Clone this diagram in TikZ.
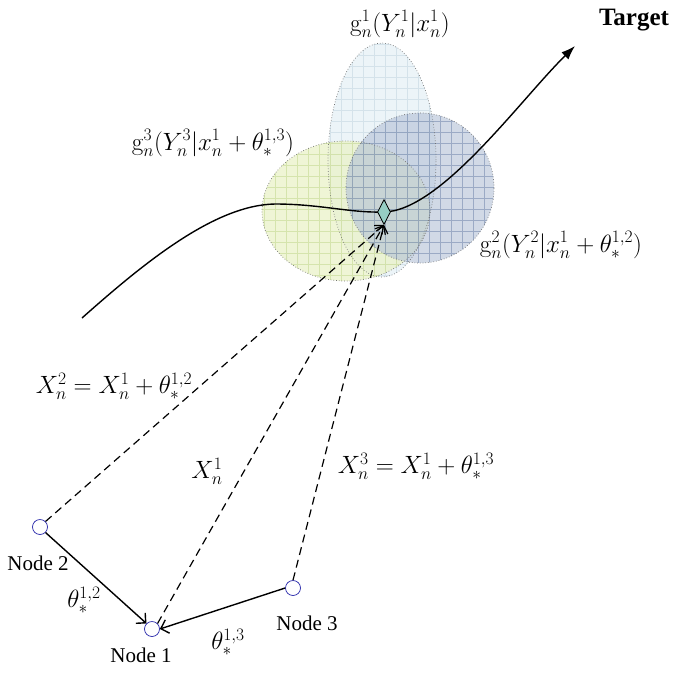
\documentclass[tikz,border=0pt]{standalone}
\usepackage{fix-cm}
\usepackage[no-math]{fontspec}
\setmainfont{Liberation Serif}
\usetikzlibrary{shapes.geometric,arrows.meta}
\definecolor{gAfill}{RGB}{236,244,248}
\definecolor{gAgrid}{RGB}{212,226,234}
\definecolor{gCfill}{RGB}{234,242,200}
\definecolor{gCgrid}{RGB}{205,222,160}
\definecolor{gBfill}{RGB}{178,192,214}
\definecolor{gBgrid}{RGB}{120,140,175}
\definecolor{diafill}{RGB}{150,205,195}
\definecolor{nodeblue}{RGB}{40,40,170}
\begin{document}
\begin{tikzpicture}[x=1pt,y=-1pt,
  nodecirc/.style={circle,draw=nodeblue,line width=0.7pt,minimum size=15pt,inner sep=0pt},
  nodelab/.style={font=\fontsize{21}{25}\selectfont},
  mlab/.style={font=\fontsize{25}{30}\selectfont,inner sep=0pt},
  ellline/.style={draw=gray!90!black,dotted,line width=0.7pt},
  dasharrow/.style={dash pattern=on 8pt off 5pt,line width=1.2pt,-{Straight Barb[length=7pt,width=12pt,line width=1.2pt]}},
  solidarrow/.style={line width=1.4pt,-{Straight Barb[length=7pt,width=14pt,line width=1.4pt]}},
  gridlines/.style={line width=0.5pt}
]
\useasboundingbox (0,0) rectangle (673,675);

% ellipse fills with grids
\begin{scope}
  \clip (382,160) ellipse [x radius=54pt, y radius=117pt];
  \fill[gAfill] (320,40) rectangle (440,280);
  \draw[gAgrid,gridlines,step=11pt] (320,40) grid (440,280);
\end{scope}
\begin{scope}[opacity=0.75]
  \clip (346,211) ellipse [x radius=84pt, y radius=70pt];
  \fill[gCfill] (255,135) rectangle (435,285);
  \draw[gCgrid,gridlines,step=11pt] (255,135) grid (435,285);
\end{scope}
\begin{scope}[opacity=0.6]
  \clip (420,188) ellipse [x radius=74pt, y radius=75pt];
  \fill[gBfill] (340,110) rectangle (500,268);
  \draw[gBgrid,gridlines,step=11pt] (340,110) grid (500,268);
\end{scope}
\draw[ellline] (382,160) ellipse [x radius=54pt, y radius=117pt];
\draw[ellline] (346,211) ellipse [x radius=84pt, y radius=70pt];
\draw[ellline] (420,188) ellipse [x radius=74pt, y radius=75pt];

% trajectory
\draw[line width=1.4pt,-{Latex[length=14pt,width=10pt]}] (82,318) .. controls (145,262) and (215,205) .. (275,204) .. controls (320,204) and (350,213) .. (383,212) .. controls (440,212) and (520,100) .. (575,46);

% diamond
\node[diamond,draw=black,line width=0.8pt,fill=diafill,minimum width=13pt,minimum height=25pt,inner sep=0pt] (dia) at (384,212) {};

% nodes
\node[nodecirc] (n2) at (40,527) {};
\node[nodecirc] (n1) at (152,629) {};
\node[nodecirc] (n3) at (293,588) {};
\node[nodelab] (l2) at (38,563) {Node 2};
\node[nodelab] (l1) at (141,655) {Node 1};
\node[nodelab] (l3) at (307,623) {Node 3};

% dashed lines to diamond
\draw[dasharrow] (n2.north east) -- (dia.south);
\draw[dasharrow] (n1.north east) -- (dia.south);
\draw[dasharrow] (n3.north) -- (dia.south);

% solid arrows
\draw[solidarrow] (n2.south east) -- (n1.north west);
\draw[solidarrow] (n3.west) -- (n1.east);

% labels
\node[mlab] (th12) at (84,600) {$\theta^{1,2}_*$};
\node[mlab] (th13) at (228,642) {$\theta^{1,3}_*$};
\node[mlab] (x2) at (114,386) {$X^2_n=X^1_n+\theta^{1,2}_*$};
\node[mlab] (x1) at (207,471) {$X^1_n$};
\node[mlab] (x3) at (416,466) {$X^3_n=X^1_n+\theta^{1,3}_*$};
\node[mlab] (gA) at (400,24) {$\mathrm{g}^1_n(Y^1_n|x^1_n)$};
\node[mlab] (gC) at (213,143) {$\mathrm{g}^3_n(Y^3_n|x^1_n+\theta^{1,3}_*)$};
\node[mlab] (gB) at (561,245) {$\mathrm{g}^2_n(Y^2_n|x^1_n+\theta^{1,2}_*)$};
\node[font=\fontsize{25}{30}\selectfont\bfseries] (tg) at (634,20) {Target};
\end{tikzpicture}
\end{document}
